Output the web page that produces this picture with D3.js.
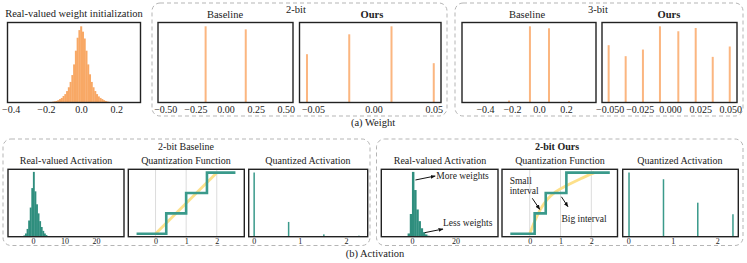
<!DOCTYPE html>
<html>
<head>
<meta charset="utf-8">
<script src="https://cdn.jsdelivr.net/npm/d3@7"></script>
<style>
  body { margin: 0; background: #fff; }
  svg, svg text { font-family: "Liberation Serif", "Times New Roman", "DejaVu Serif", serif !important; }
  svg text { fill: #222; }
</style>
</head>
<body>
<div id="chart"></div>
<script>
// ---- data ----
// (a) weight histograms (relative counts)
const realWeightBins = [-0.16,-0.15,-0.14,-0.13,-0.12,-0.11,-0.10,-0.09,-0.08,-0.07,-0.06,-0.05,-0.04,-0.03,-0.02,-0.01,0.00,
  0.01,0.02,0.03,0.04,0.05,0.06,0.07,0.08,0.09,0.10,0.11,0.12,0.13,0.14,0.15,0.16,0.17];
const realWeightCounts = [0.01,0.015,0.02,0.03,0.045,0.06,0.085,0.11,0.15,0.2,0.27,0.36,0.5,0.68,0.85,0.95,1.0,
  0.93,0.84,0.68,0.5,0.37,0.27,0.2,0.15,0.11,0.08,0.06,0.045,0.03,0.02,0.013,0.008,0.004];
const base2Levels = [-0.165, 0.168];
const base2Counts = [1.0, 0.96];
const ours2Levels = [-0.055, -0.02, 0.015, 0.05];
const ours2Counts = [0.634, 0.895, 1.0, 0.516];
const base3Levels = [-0.222, -0.067, 0.074, 0.222];
const base3Counts = [0.025, 1.0, 0.974, 0.02];
const ours3Levels = [-0.0508, -0.0367, -0.0224, -0.0083, 0.0069, 0.0213, 0.0354, 0.0495];
const ours3Counts = [0.752, 0.608, 0.695, 1.0, 0.935, 0.978, 0.599, 0.735];

// (b) activation histograms
const baseActBins = [-2.75,-2.25,-1.75,-1.25,-0.75,-0.25,0.25,0.75,1.25,1.75,2.25,2.75,3.25,3.75,4.25,4.75];
const baseActCounts = [0.02,0.05,0.12,0.25,0.45,0.75,1.0,0.7,0.5,0.36,0.24,0.15,0.09,0.05,0.025,0.01];
const oursActBins = [-1.5,-0.5,0.5,1.5,2.5,3.5,4.5,5.5,6.5,7.5,8.5];
const oursActCounts = [0.05,0.35,1.0,0.72,0.42,0.24,0.13,0.07,0.035,0.015,0.006];

// quantization functions
const quantOutLevels = [0, 0.667, 1.333, 2];
const baseStepX = [-0.62, 0.35, 1.0, 1.68, 2.61];   // start, thresholds, end
const oursStepX = [-0.63, 0.16, 0.52, 1.19, 2.6];
const baseIdealX = [0, 2];
const baseIdealY = [0, 2];
const oursCurveX = [0, 0.15, 0.35, 0.55, 0.85, 1.2, 1.65, 2.1];
const oursCurveY = [0, 0.38, 0.8, 1.1, 1.38, 1.58, 1.8, 2.0];

// quantized activations
const baseQLevels = [0.01, 0.757, 1.52, 2.28];
const baseQCounts = [1.0, 0.23, 0.036, 0.016];
const oursQLevels = [0.016, 0.79, 1.56, 2.35];
const oursQCounts = [1.0, 0.895, 0.53, 0.35];

const ORANGE = "#f8a865";
const ORANGE_BAR = "#fbb680";
const TEAL = "#3a9a8b";
const TEAL_HIST = "#2f8e7e";
const YELLOW = "#fde08a";
const SERIF = "'Liberation Serif', 'Times New Roman', 'DejaVu Serif', serif";

const svg = d3.select("#chart").append("svg")
  .attr("width", 747)
  .attr("height", 263)
  .attr("font-family", SERIF);

// dashed group boxes
function groupBox(x0, y0, x1, y1) {
  svg.append("rect")
    .attr("x", x0).attr("y", y0)
    .attr("width", x1 - x0).attr("height", y1 - y0)
    .attr("rx", 8)
    .attr("fill", "none")
    .attr("stroke", "#b5b5b5")
    .attr("stroke-width", 1)
    .attr("stroke-dasharray", "4,3");
}
groupBox(152, 3, 447, 116);
groupBox(455, 3, 743, 116);
groupBox(3, 139, 370, 245.5);
groupBox(376.5, 139, 743, 245.5);

function label(x, y, text, size, bold) {
  svg.append("text")
    .attr("x", x).attr("y", y)
    .attr("text-anchor", "middle")
    .attr("dominant-baseline", "middle")
    .style("font-family", SERIF)
    .style("font-size", size + "px")
    .style("font-weight", bold ? "bold" : "normal")
    .text(text);
}

// one framed subplot; content group sits under the frame
function makePanel(box, xDomain, yDomain, ticks, fmt, fontSize) {
  const [x0, y0, x1, y1] = box;
  const x = d3.scaleLinear().domain(xDomain).range([x0, x1]);
  const y = d3.scaleLinear().domain(yDomain).range([y1, y0]);
  const g = svg.append("g");
  svg.append("rect")
    .attr("x", x0).attr("y", y0)
    .attr("width", x1 - x0).attr("height", y1 - y0)
    .attr("fill", "none")
    .attr("stroke", "#222")
    .attr("stroke-width", 1.4);
  const ax = svg.append("g")
    .attr("transform", `translate(0,${y1})`)
    .call(d3.axisBottom(x).tickValues(ticks).tickSize(0).tickPadding(fontSize > 9 ? 3 : 2).tickFormat(d3.format(fmt)));
  ax.select(".domain").remove();
  ax.attr("font-family", SERIF).attr("font-size", null);
  ax.selectAll("text")
    .style("font-family", SERIF)
    .style("font-size", fontSize + "px")
    .attr("fill", "#222");
  return { x, y, g };
}

function histBars(p, bins, counts, width, color) {
  p.g.selectAll(null)
    .data(bins.map((b, i) => ({ b, c: counts[i] })))
    .join("rect")
    .attr("x", d => p.x(d.b - width / 2))
    .attr("width", d => p.x(d.b + width / 2) - p.x(d.b - width / 2) + 0.3)
    .attr("y", d => p.y(d.c))
    .attr("height", d => p.y(0) - p.y(d.c))
    .attr("fill", color);
}

function spikes(p, levels, counts, px, color) {
  p.g.selectAll(null)
    .data(levels.map((l, i) => ({ l, c: counts[i] })))
    .join("rect")
    .attr("x", d => p.x(d.l) - px / 2)
    .attr("width", px)
    .attr("y", d => p.y(d.c))
    .attr("height", d => p.y(0) - p.y(d.c))
    .attr("fill", color);
}

// ---- (a) Weight ----
const pW = makePanel([7.5, 22.5, 140.5, 102.5], [-0.418, 0.338], [0, 1.05], [-0.4, -0.2, 0, 0.2], ".1f", 10);
histBars(pW, realWeightBins, realWeightCounts, 0.01, ORANGE);
label(74, 15, "Real-valued weight initialization", 10.5);

const pB2 = makePanel([158, 22.5, 293, 102.5], [-0.56, 0.56], [0, 1.05], [-0.5, -0.25, 0, 0.25, 0.5], ".2f", 10);
spikes(pB2, base2Levels, base2Counts, 2, ORANGE_BAR);
label(225, 16, "Baseline", 10.5);

const pO2 = makePanel([299.5, 22.5, 441, 102.5], [-0.0612, 0.056], [0, 1.05], [-0.05, 0, 0.05], ".2f", 10);
spikes(pO2, ours2Levels, ours2Counts, 2, ORANGE_BAR);
label(372, 16, "Ours", 10.5, true);
label(296, 11, "2-bit", 10.5);

const pB3 = makePanel([462, 22.5, 596, 102.5], [-0.57, 0.422], [0, 1.05], [-0.4, -0.2, 0, 0.2], ".1f", 10);
spikes(pB3, base3Levels, base3Counts, 2, ORANGE_BAR);
label(527, 16, "Baseline", 10.5);

const pO3 = makePanel([602, 22.5, 737, 102.5], [-0.0563, 0.0555], [0, 1.05], [-0.05, -0.025, 0, 0.025, 0.05], ".3f", 10);
spikes(pO3, ours3Levels, ours3Counts, 2, ORANGE_BAR);
label(669, 16, "Ours", 10.5, true);
label(598, 11, "3-bit", 10.5);

label(373, 124, "(a) Weight", 10.5);

// ---- (b) Activation ----
svg.append("defs").append("marker")
  .attr("id", "arrow")
  .attr("viewBox", "0 0 10 10")
  .attr("refX", 9).attr("refY", 5)
  .attr("markerWidth", 5).attr("markerHeight", 5)
  .attr("orient", "auto")
  .append("path").attr("d", "M0,1 L10,5 L0,9 Z").attr("fill", "#111");

function arrow(p, fx, fy, tx, ty) {
  svg.append("line")
    .attr("x1", p.x(fx)).attr("y1", p.y(fy))
    .attr("x2", p.x(tx)).attr("y2", p.y(ty))
    .attr("stroke", "#111").attr("stroke-width", 1)
    .attr("marker-end", "url(#arrow)");
}
function note(p, dx, dy, text) {
  svg.append("text")
    .attr("x", p.x(dx)).attr("y", p.y(dy))
    .attr("dominant-baseline", "middle")
    .style("font-family", SERIF)
    .style("font-size", "9.5px")
    .text(text);
}

function quantFunction(p, stepX, idealX, idealY, curve) {
  p.g.selectAll(null).data([0, 1, 2]).join("line")
    .attr("x1", d => p.x(d)).attr("x2", d => p.x(d))
    .attr("y1", p.y.range()[0]).attr("y2", p.y.range()[1])
    .attr("stroke", "#dcdcdc").attr("stroke-width", 1);
  const ideal = idealX.map((v, i) => [v, idealY[i]]);
  p.g.append("path")
    .attr("d", d3.line().x(d => p.x(d[0])).y(d => p.y(d[1])).curve(curve)(ideal))
    .attr("fill", "none").attr("stroke", YELLOW).attr("stroke-width", 2.8);
  // staircase: flat at each level until the next threshold
  const pts = stepX.map((v, i) => [v, quantOutLevels[Math.min(i, quantOutLevels.length - 1)]]);
  p.g.append("path")
    .attr("d", d3.line().x(d => p.x(d[0])).y(d => p.y(d[1])).curve(d3.curveStepAfter)(pts))
    .attr("fill", "none").attr("stroke", TEAL).attr("stroke-width", 2.6);
}

// 2-bit Baseline
const pA1 = makePanel([8, 169.3, 124, 236.7], [-7.9, 28.9], [0, 1.04], [0, 10, 20], "d", 8);
histBars(pA1, baseActBins, baseActCounts, 0.5, TEAL_HIST);
label(66, 162, "Real-valued Activation", 10);

const pF1 = makePanel([128.3, 169.3, 244.3, 236.7], [-0.89, 2.9], [-0.098, 2.11], [0, 1, 2], "d", 8);
quantFunction(pF1, baseStepX, baseIdealX, baseIdealY, d3.curveLinear);
label(186, 162, "Quantization Function", 10);

const pQ1 = makePanel([248.7, 169.3, 367.7, 236.7], [-0.108, 2.47], [0, 1.05], [0, 1, 2], "d", 8);
spikes(pQ1, baseQLevels, baseQCounts, 1.5, TEAL);
label(308, 162, "Quantized Activation", 10);
label(186, 148, "2-bit Baseline", 10);

// 2-bit Ours
const pA2 = makePanel([381.3, 169.3, 498, 236.7], [-14.1, 39.6], [0, 1.04], [0, 20], "d", 8);
histBars(pA2, oursActBins, oursActCounts, 1, TEAL_HIST);
label(440, 162, "Real-valued Activation", 10);
arrow(pA2, 1.6, 0.875, 10.7, 0.937);
note(pA2, 11.2, 0.92, "More weights");
arrow(pA2, 5.85, 0.062, 14.3, 0.119);
note(pA2, 14.3, 0.196, "Less weights");

const pF2 = makePanel([502, 169.3, 617.5, 236.7], [-0.9, 2.85], [-0.098, 2.11], [0, 1, 2], "d", 8);
quantFunction(pF2, oursStepX, oursCurveX, oursCurveY, d3.curveMonotoneX);
label(560, 162, "Quantization Function", 10);
note(pF2, -0.65, 1.7, "Small");
note(pF2, -0.65, 1.36, "interval");
arrow(pF2, 0.084, 1.16, 0.325, 0.8);
arrow(pF2, 1.03, 1.21, 1.24, 0.885);
note(pF2, 1.03, 0.47, "Big interval");

const pQ2 = makePanel([622.7, 169.3, 738.3, 236.7], [-0.126, 2.47], [0, 1.05], [0, 1, 2], "d", 8);
spikes(pQ2, oursQLevels, oursQCounts, 1.5, TEAL);
label(680, 162, "Quantized Activation", 10);
label(557, 148, "2-bit Ours", 10, true);

label(375, 255, "(b) Activation", 10.5);
</script>
</body>
</html>
